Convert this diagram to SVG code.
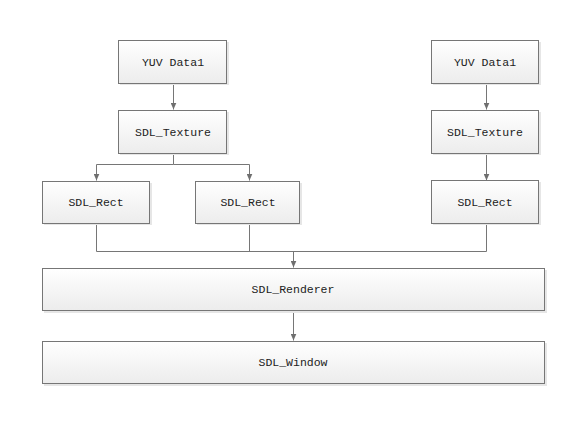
<svg xmlns="http://www.w3.org/2000/svg" width="585" height="424" viewBox="0 0 585 424">
<defs>
<linearGradient id="g" x1="0" y1="0" x2="0" y2="1">
<stop offset="0" stop-color="#ffffff"/>
<stop offset="1" stop-color="#ececec"/>
</linearGradient>
<marker id="arr" markerWidth="7" markerHeight="6" refX="7" refY="3" orient="auto" markerUnits="userSpaceOnUse">
<path d="M0,0 L7,3 L0,6 Z" fill="#6f6f6f"/>
</marker>
<style>
.sh{fill:#e6e6e6;}
.bx{fill:url(#g);stroke:#767676;stroke-width:1;}
.t{font-family:"Liberation Mono","DejaVu Sans Mono",monospace;font-size:11.5px;fill:#222;text-anchor:middle;dominant-baseline:central;}
.c{fill:none;stroke:#767676;stroke-width:1;}
</style>
</defs>
<rect width="585" height="424" fill="#ffffff"/>
<g id="connectors">
<path class="c" d="M173.5,83.5 V109.5" marker-end="url(#arr)"/>
<path class="c" d="M173.5,153.5 V164.5 H96.5 V180.5" marker-end="url(#arr)"/>
<path class="c" d="M173.5,164.5 H249.5 V180.5" marker-end="url(#arr)"/>
<path class="c" d="M486.5,83.5 V109.5" marker-end="url(#arr)"/>
<path class="c" d="M486.5,153.5 V180.5" marker-end="url(#arr)"/>
<path class="c" d="M96.5,223.5 V251.5 H486.5 V223.5"/>
<path class="c" d="M249.5,223.5 V251.5"/>
<path class="c" d="M293.5,251.5 V267.5" marker-end="url(#arr)"/>
<path class="c" d="M293.5,311.5 V340.5" marker-end="url(#arr)"/>
</g>
<g id="yuv1">
<rect class="sh" x="120" y="42" width="109" height="43"/>
<rect class="bx" x="118.5" y="40.5" width="108" height="43"/>
<text class="t" x="173" y="62">YUV Data1</text>
</g>
<g id="tex1">
<rect class="sh" x="120" y="112" width="109" height="43"/>
<rect class="bx" x="118.5" y="110.5" width="108" height="43"/>
<text class="t" x="173" y="132">SDL_Texture</text>
</g>
<g id="rect1">
<rect class="sh" x="44" y="183" width="108" height="42"/>
<rect class="bx" x="42.5" y="181.5" width="107" height="42"/>
<text class="t" x="96" y="202">SDL_Rect</text>
</g>
<g id="rect2">
<rect class="sh" x="197" y="183" width="105" height="42"/>
<rect class="bx" x="195.5" y="181.5" width="104" height="42"/>
<text class="t" x="248" y="202">SDL_Rect</text>
</g>
<g id="yuv2">
<rect class="sh" x="433" y="42" width="108" height="43"/>
<rect class="bx" x="431.5" y="40.5" width="107" height="43"/>
<text class="t" x="485" y="62">YUV Data1</text>
</g>
<g id="tex2">
<rect class="sh" x="433" y="112" width="108" height="43"/>
<rect class="bx" x="431.5" y="110.5" width="107" height="43"/>
<text class="t" x="485" y="132">SDL_Texture</text>
</g>
<g id="rect3">
<rect class="sh" x="433" y="182" width="108" height="43"/>
<rect class="bx" x="431.5" y="180.5" width="107" height="43"/>
<text class="t" x="485" y="202">SDL_Rect</text>
</g>
<g id="renderer">
<rect class="sh" x="44" y="270" width="503" height="43"/>
<rect class="bx" x="42.5" y="268.5" width="502" height="42"/>
<text class="t" x="293" y="289">SDL_Renderer</text>
</g>
<g id="window">
<rect class="sh" x="44" y="343" width="503" height="43"/>
<rect class="bx" x="42.5" y="341.5" width="502" height="42"/>
<text class="t" x="293" y="362">SDL_Window</text>
</g>
</svg>
